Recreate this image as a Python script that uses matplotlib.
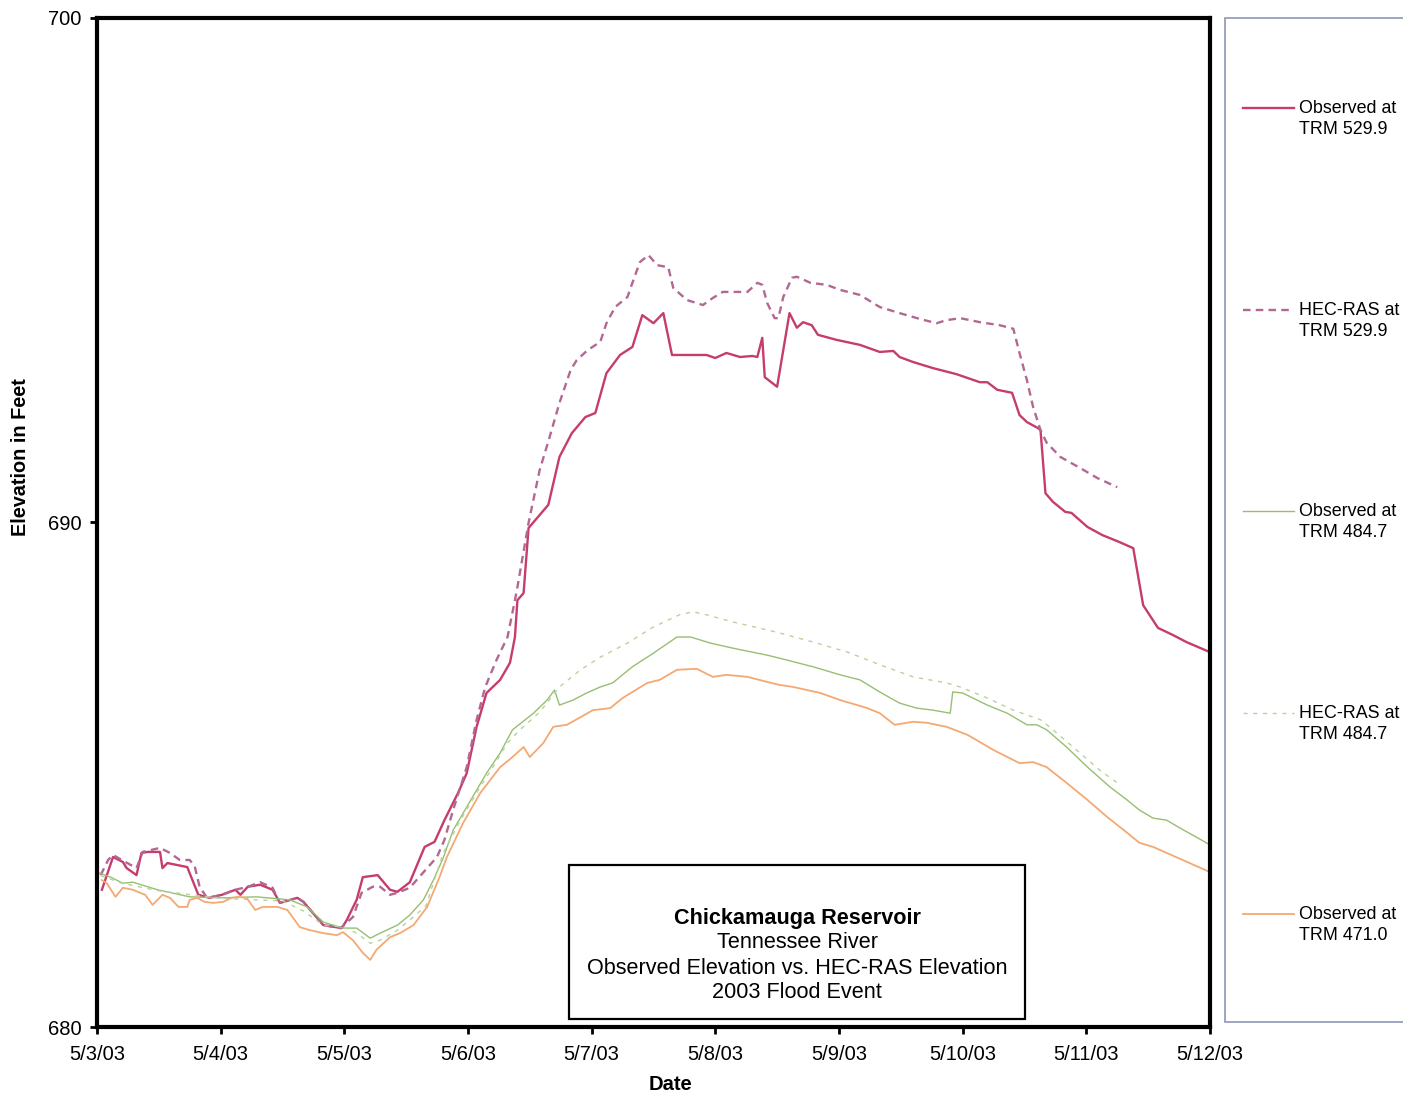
import matplotlib.pyplot as plt
from matplotlib.patches import Rectangle
from matplotlib.lines import Line2D

plt.rcParams['font.family'] = ['Liberation Sans', 'DejaVu Sans']

# x axis: days after 5/3/03 00:00
date_labels = ['5/3/03', '5/4/03', '5/5/03', '5/6/03', '5/7/03',
               '5/8/03', '5/9/03', '5/10/03', '5/11/03', '5/12/03']
elev_ticks = [680, 690, 700]

# Observed at TRM 529.9
t_obs_529 = [0.04, 0.13, 0.21, 0.24, 0.32, 0.36, 0.41, 0.51, 0.53, 0.57,
             0.73, 0.82, 0.91, 1.01, 1.12, 1.16, 1.22, 1.32, 1.42, 1.48,
             1.62, 1.67, 1.83, 1.98, 2.02, 2.10, 2.15, 2.27, 2.37, 2.43,
             2.53, 2.65, 2.73, 2.81, 2.92, 2.99, 3.07, 3.15, 3.26, 3.34,
             3.38, 3.40, 3.45, 3.49, 3.65, 3.74, 3.84, 3.95, 4.03, 4.12,
             4.23, 4.33, 4.41, 4.50, 4.58, 4.65, 4.82, 4.93, 5.00, 5.09,
             5.20, 5.30, 5.34, 5.38, 5.40, 5.50, 5.60, 5.66, 5.71, 5.78,
             5.83, 5.98, 6.17, 6.33, 6.44, 6.49, 6.60, 6.76, 6.95, 7.14,
             7.20, 7.28, 7.40, 7.46, 7.52, 7.61, 7.63, 7.67, 7.73, 7.83,
             7.88, 8.01, 8.13, 8.27, 8.38, 8.46, 8.58, 8.70, 8.81, 9.00]
obs_529 = [682.72, 683.37, 683.27, 683.15, 683.01, 683.45, 683.47, 683.47, 683.15, 683.25,
           683.17, 682.62, 682.56, 682.62, 682.72, 682.62, 682.78, 682.82, 682.72, 682.46,
           682.56, 682.48, 682.02, 681.96, 682.12, 682.52, 682.97, 683.01, 682.72, 682.68,
           682.87, 683.57, 683.67, 684.10, 684.64, 685.03, 685.95, 686.62, 686.88, 687.22,
           687.73, 688.46, 688.60, 689.89, 690.35, 691.30, 691.77, 692.09, 692.17, 692.96,
           693.32, 693.48, 694.11, 693.95, 694.15, 693.32, 693.32, 693.32, 693.26, 693.36,
           693.28, 693.30, 693.28, 693.66, 692.88, 692.69, 694.15, 693.86, 693.97, 693.91,
           693.72, 693.62, 693.52, 693.38, 693.40, 693.28, 693.18, 693.06, 692.94, 692.78,
           692.78, 692.63, 692.57, 692.13, 691.99, 691.87, 691.83, 690.58, 690.41, 690.21,
           690.19, 689.91, 689.75, 689.61, 689.49, 688.36, 687.91, 687.77, 687.63, 687.43]

# HEC-RAS at TRM 529.9
t_hec_529 = [0.03, 0.09, 0.13, 0.23, 0.32, 0.37, 0.51, 0.59, 0.67, 0.75,
             0.79, 0.83, 0.89, 1.01, 1.12, 1.22, 1.32, 1.42, 1.48, 1.62,
             1.67, 1.83, 1.97, 2.07, 2.14, 2.23, 2.29, 2.37, 2.43, 2.53,
             2.67, 2.75, 2.81, 2.88, 2.99, 3.07, 3.14, 3.23, 3.32, 3.38,
             3.40, 3.49, 3.58, 3.66, 3.74, 3.83, 3.88, 3.97, 4.07, 4.12,
             4.19, 4.29, 4.33, 4.39, 4.46, 4.53, 4.62, 4.66, 4.77, 4.90,
             4.98, 5.06, 5.26, 5.34, 5.38, 5.42, 5.48, 5.51, 5.55, 5.62,
             5.66, 5.77, 5.90, 6.01, 6.17, 6.33, 6.49, 6.66, 6.79, 6.87,
             6.98, 7.14, 7.30, 7.41, 7.46, 7.52, 7.57, 7.63, 7.68, 7.79,
             7.95, 8.09, 8.25]
hec_529 = [683.01, 683.31, 683.41, 683.27, 683.15, 683.47, 683.55, 683.45, 683.31, 683.31,
           683.19, 682.78, 682.56, 682.62, 682.72, 682.78, 682.87, 682.76, 682.46, 682.56,
           682.48, 682.02, 681.96, 682.18, 682.66, 682.78, 682.78, 682.62, 682.66, 682.76,
           683.15, 683.37, 683.71, 684.30, 685.15, 686.09, 686.74, 687.27, 687.73, 688.46,
           688.72, 689.99, 691.04, 691.69, 692.37, 693.02, 693.22, 693.42, 693.58, 693.95,
           694.27, 694.47, 694.75, 695.16, 695.30, 695.10, 695.06, 694.65, 694.41, 694.31,
           694.45, 694.57, 694.57, 694.75, 694.71, 694.35, 694.05, 694.05, 694.47, 694.85,
           694.87, 694.75, 694.71, 694.61, 694.51, 694.27, 694.15, 694.03, 693.95, 694.01,
           694.05, 693.97, 693.91, 693.84, 693.36, 692.82, 692.29, 691.83, 691.58, 691.30,
           691.08, 690.88, 690.70]

# Observed at TRM 484.7
t_obs_484 = [0.02, 0.11, 0.21, 0.29, 0.49, 0.75, 1.02, 1.29, 1.56, 1.70,
             1.83, 1.99, 2.10, 2.21, 2.29, 2.43, 2.53, 2.64, 2.72, 2.80,
             2.88, 2.99, 3.15, 3.26, 3.36, 3.53, 3.64, 3.70, 3.74, 3.85,
             3.96, 4.07, 4.17, 4.33, 4.50, 4.69, 4.80, 4.96, 5.14, 5.42,
             5.52, 5.79, 6.01, 6.17, 6.33, 6.49, 6.63, 6.76, 6.90, 6.92,
             7.00, 7.20, 7.36, 7.52, 7.60, 7.68, 7.84, 8.01, 8.19, 8.33,
             8.43, 8.54, 8.65, 8.76, 8.90, 9.00]
obs_484 = [683.05, 682.97, 682.85, 682.87, 682.72, 682.58, 682.56, 682.58, 682.52, 682.38,
           682.08, 681.96, 681.96, 681.76, 681.86, 682.02, 682.22, 682.52, 682.91, 683.35,
           683.90, 684.36, 685.03, 685.43, 685.89, 686.22, 686.48, 686.68, 686.38, 686.48,
           686.62, 686.74, 686.82, 687.14, 687.41, 687.73, 687.73, 687.61, 687.51, 687.37,
           687.31, 687.14, 686.98, 686.88, 686.64, 686.42, 686.32, 686.28, 686.22, 686.64,
           686.62, 686.38, 686.22, 685.99, 685.99, 685.89, 685.55, 685.15, 684.76, 684.50,
           684.30, 684.14, 684.10, 683.94, 683.75, 683.61]

# HEC-RAS at TRM 484.7
t_hec_484 = [0.03, 0.20, 0.50, 1.00, 1.50, 1.67, 1.83, 1.99, 2.10, 2.21,
             2.29, 2.43, 2.53, 2.66, 2.74, 2.80, 2.94, 3.07, 3.20, 3.32,
             3.42, 3.58, 3.74, 3.91, 4.07, 4.29, 4.50, 4.71, 4.82, 4.93,
             5.14, 5.42, 5.52, 5.79, 6.07, 6.33, 6.60, 6.87, 6.98, 7.20,
             7.41, 7.63, 7.76, 7.95, 8.11, 8.25]
hec_484 = [683.00, 682.85, 682.70, 682.55, 682.50, 682.30, 682.02, 681.98, 681.86, 681.66,
           681.72, 681.92, 682.12, 682.40, 683.00, 683.45, 684.10, 684.64, 685.15, 685.63,
           685.89, 686.24, 686.74, 687.08, 687.33, 687.61, 687.93, 688.17, 688.23, 688.17,
           688.03, 687.87, 687.81, 687.63, 687.43, 687.18, 686.94, 686.82, 686.74, 686.52,
           686.28, 686.09, 685.83, 685.43, 685.09, 684.84]

# Observed at TRM 471.0
t_obs_471 = [0.04, 0.08, 0.15, 0.21, 0.29, 0.39, 0.45, 0.53, 0.59, 0.66,
             0.73, 0.75, 0.81, 0.87, 0.94, 1.02, 1.09, 1.14, 1.21, 1.28,
             1.34, 1.46, 1.54, 1.64, 1.72, 1.83, 1.94, 1.99, 2.07, 2.15,
             2.21, 2.26, 2.37, 2.45, 2.56, 2.67, 2.77, 2.83, 2.96, 3.10,
             3.26, 3.36, 3.45, 3.50, 3.61, 3.69, 3.80, 3.91, 4.01, 4.15,
             4.25, 4.45, 4.55, 4.69, 4.85, 4.98, 5.09, 5.26, 5.42, 5.52,
             5.63, 5.85, 6.01, 6.23, 6.33, 6.45, 6.60, 6.71, 6.87, 7.04,
             7.25, 7.46, 7.57, 7.68, 7.84, 8.01, 8.17, 8.30, 8.43, 8.54,
             8.65, 8.78, 9.00]
obs_471 = [682.91, 682.85, 682.58, 682.76, 682.72, 682.62, 682.42, 682.62, 682.56, 682.38,
           682.38, 682.52, 682.56, 682.48, 682.46, 682.48, 682.56, 682.58, 682.56, 682.32,
           682.38, 682.38, 682.32, 681.98, 681.92, 681.86, 681.82, 681.88, 681.72, 681.47,
           681.33, 681.53, 681.78, 681.86, 682.02, 682.38, 682.97, 683.37, 684.04, 684.64,
           685.15, 685.35, 685.55, 685.35, 685.63, 685.95, 685.99, 686.14, 686.28, 686.32,
           686.52, 686.82, 686.88, 687.08, 687.10, 686.94, 686.98, 686.94, 686.84, 686.78,
           686.74, 686.62, 686.48, 686.32, 686.22, 685.99, 686.05, 686.03, 685.95, 685.79,
           685.49, 685.23, 685.25, 685.15, 684.84, 684.50, 684.16, 683.91, 683.65, 683.57,
           683.45, 683.31, 683.07]

series = [
    ('Observed at\nTRM 529.9', t_obs_529, obs_529, dict(color='#C63D6C', lw=1.7)),
    ('HEC-RAS at\nTRM 529.9', t_hec_529, hec_529, dict(color='#B26893', lw=1.7, dashes=(3.2, 2.2))),
    ('Observed at\nTRM 484.7', t_obs_484, obs_484, dict(color='#98BE72', lw=1.0)),
    ('HEC-RAS at\nTRM 484.7', t_hec_484, hec_484, dict(color='#B9D29C', lw=1.0, dashes=(3, 4))),
    ('Observed at\nTRM 471.0', t_obs_471, obs_471, dict(color='#F5A872', lw=1.3)),
]

fig = plt.figure(figsize=(14.03, 10.95), dpi=100)
ax = fig.add_axes([0.0691, 0.0621, 0.7933, 0.9215])

for label, t, v, style in series:
    ax.plot(t, v, **style)

ax.set_xlim(0, 9)
ax.set_ylim(680, 700)
ax.set_xticks(range(len(date_labels)))
ax.set_xticklabels(date_labels)
ax.set_yticks(elev_ticks)
ax.tick_params(direction='out', length=5, width=2, labelsize=14.5, pad=6)
ax.tick_params(axis='x', pad=8)
for sp in ax.spines.values():
    sp.set_linewidth(3)

ax.set_xlabel('Date', fontsize=14.5, fontweight='bold')
ax.xaxis.set_label_coords(0.515, -0.048)
ax.set_ylabel('Elevation in Feet', fontsize=14.3, fontweight='bold')
ax.yaxis.set_label_coords(-0.060, 0.565)

# title box in the lower part of the plot
ax.add_patch(Rectangle((0.4241, 0.0079), 0.4097, 0.1527, transform=ax.transAxes,
                       facecolor='white', edgecolor='black', lw=1.6, zorder=5))
title_lines = ['Chickamauga Reservoir', 'Tennessee River',
               'Observed Elevation vs. HEC-RAS Elevation', '2003 Flood Event']
title_y = [0.1080, 0.0833, 0.0575, 0.0337]
for i, (txt, yy) in enumerate(zip(title_lines, title_y)):
    ax.text(0.629, yy, txt, transform=ax.transAxes, ha='center', va='center',
            fontsize=15.6, fontweight='bold' if i == 0 else 'normal', zorder=6)

# legend panel on the right
fig.add_artist(Rectangle((0.8731, 0.0667), 0.2, 0.9169, transform=fig.transFigure,
                         facecolor='white', edgecolor='#8C96B8', lw=1.2))
entry_px = [108, 310, 511, 713, 914]
for (label, t, v, style), ypx in zip(series, entry_px):
    yf = 1 - ypx / 1095
    fig.add_artist(Line2D([0.8860, 0.9223], [yf, yf], transform=fig.transFigure, **style))
    fig.text(0.9259, yf - 11 / 1095, label, ha='left', va='center',
             fontsize=12.9, linespacing=1.3)

fig.savefig('out.png', dpi=100)
